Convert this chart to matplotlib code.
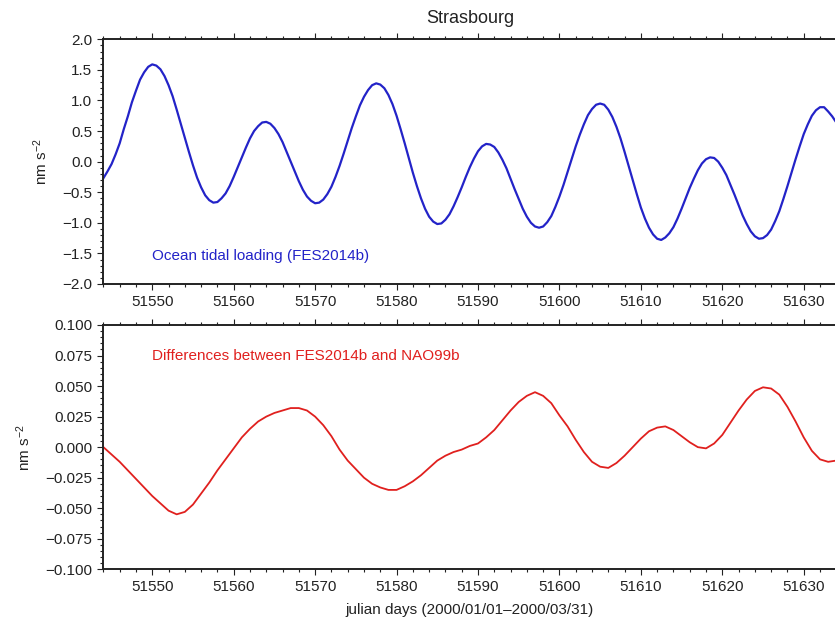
"""
Ocean tidal loading at Strasbourg (FES2014b) and the FES2014b - NAO99b
difference, Jan-Mar 2000, drawn in a GMT-like style.
"""
import matplotlib
matplotlib.use("Agg")
import matplotlib.pyplot as plt
from matplotlib.ticker import MultipleLocator, FuncFormatter

plt.rcParams["font.family"] = ["Liberation Sans", "DejaVu Sans"]
plt.rcParams["mathtext.default"] = "regular"
plt.rcParams["axes.unicode_minus"] = True

# --- data (MJD, nm s^-2) --------------------------------------------------
# FES2014b loading, every half day from 51544.0 to 51634.0
otl_fes = [
    -0.27, -0.16, -0.04, 0.12, 0.30, 0.53, 0.74, 0.97, 1.16, 1.34,
    1.46, 1.55, 1.59, 1.57, 1.51, 1.40, 1.25, 1.07, 0.85, 0.62,
    0.39, 0.16, -0.06, -0.26, -0.42, -0.55, -0.63, -0.67, -0.66, -0.60,
    -0.52, -0.40, -0.25, -0.09, 0.07, 0.23, 0.38, 0.50, 0.58, 0.64,
    0.65, 0.62, 0.55, 0.45, 0.32, 0.16, 0.00, -0.16, -0.32, -0.46,
    -0.57, -0.64, -0.68, -0.67, -0.62, -0.53, -0.41, -0.25, -0.07, 0.13,
    0.34, 0.55, 0.74, 0.92, 1.06, 1.17, 1.25, 1.28, 1.26, 1.20,
    1.09, 0.94, 0.75, 0.53, 0.30, 0.06, -0.18, -0.40, -0.60, -0.77,
    -0.90, -0.98, -1.02, -1.01, -0.95, -0.86, -0.73, -0.58, -0.42, -0.25,
    -0.09, 0.05, 0.17, 0.25, 0.29, 0.28, 0.24, 0.15, 0.03, -0.11,
    -0.28, -0.45, -0.61, -0.77, -0.90, -1.00, -1.06, -1.08, -1.06, -0.99,
    -0.89, -0.74, -0.57, -0.38, -0.17, 0.04, 0.25, 0.44, 0.61, 0.76,
    0.86, 0.93, 0.95, 0.93, 0.85, 0.73, 0.57, 0.38, 0.16, -0.07,
    -0.30, -0.53, -0.75, -0.93, -1.08, -1.19, -1.26, -1.28, -1.24, -1.17,
    -1.07, -0.93, -0.77, -0.60, -0.43, -0.28, -0.14, -0.03, 0.04, 0.07,
    0.06, 0.00, -0.10, -0.22, -0.38, -0.54, -0.71, -0.88, -1.02, -1.14,
    -1.22, -1.26, -1.25, -1.20, -1.11, -0.97, -0.81, -0.61, -0.40, -0.18,
    0.04, 0.25, 0.45, 0.61, 0.75, 0.84, 0.89, 0.89, 0.82, 0.74,
    0.64,
]
days_otl = [51544 + 0.5 * i for i in range(len(otl_fes))]

# FES2014b - NAO99b, daily from 51544 to 51634
diff_fes_nao = [
    0.000, -0.006, -0.012, -0.019, -0.026, -0.033, -0.040, -0.046, -0.052, -0.055,
    -0.053, -0.047, -0.038, -0.029, -0.019, -0.010, -0.001, 0.008, 0.015, 0.021,
    0.025, 0.028, 0.030, 0.032, 0.032, 0.030, 0.025, 0.018, 0.009, -0.002,
    -0.011, -0.018, -0.025, -0.030, -0.033, -0.035, -0.035, -0.032, -0.028, -0.023,
    -0.017, -0.011, -0.007, -0.004, -0.002, 0.001, 0.003, 0.008, 0.014, 0.022,
    0.030, 0.037, 0.042, 0.045, 0.042, 0.036, 0.026, 0.017, 0.006, -0.004,
    -0.012, -0.016, -0.017, -0.013, -0.007, 0.000, 0.007, 0.013, 0.016, 0.017,
    0.014, 0.009, 0.004, 0.000, -0.001, 0.003, 0.010, 0.020, 0.030, 0.039,
    0.046, 0.049, 0.048, 0.043, 0.033, 0.021, 0.008, -0.003, -0.010, -0.012,
    -0.011,
]
days_diff = list(range(51544, 51544 + len(diff_fes_nao)))

x_range = (51544, 51634)
top_ylim = (-2.0, 2.0)
bot_ylim = (-0.1, 0.1)

text_col = "#222222"
blue = "#2323c8"
red = "#e0201e"


def fmt(decimals):
    def _f(v, pos):
        s = f"{round(v, decimals) + 0.0:.{decimals}f}"
        return s.replace("-", "\u2212")
    return FuncFormatter(_f)


def style_axes(ax, ymajor, yminor, ydec):
    ax.set_xlim(*x_range)
    ax.xaxis.set_major_locator(MultipleLocator(10))
    ax.xaxis.set_minor_locator(MultipleLocator(2))
    ax.xaxis.set_major_formatter(FuncFormatter(lambda v, p: f"{int(round(v))}"))
    ax.yaxis.set_major_locator(MultipleLocator(ymajor))
    ax.yaxis.set_minor_locator(MultipleLocator(yminor))
    ax.yaxis.set_major_formatter(fmt(ydec))
    ax.tick_params(which="both", direction="out", top=True, right=True,
                   colors=text_col, labelcolor=text_col, width=0.8)
    ax.tick_params(which="major", length=4.5, pad=3.5, labelsize=11)
    ax.tick_params(which="minor", length=2.4)
    for sp in ax.spines.values():
        sp.set_linewidth(1.4)
        sp.set_color(text_col)
    ax.set_ylabel(r"nm s$^{-2}$", fontsize=11, color=text_col, labelpad=9)


fig = plt.figure(figsize=(8.35, 6.3), dpi=100)
left = 103.4 / 835
width = (836.3 - 103.4) / 835
ax1 = fig.add_axes([left, 1 - 284 / 630, width, (284 - 39.3) / 630])
ax2 = fig.add_axes([left, 1 - 569.3 / 630, width, (569.3 - 325) / 630])

# top: ocean tidal loading
ax1.plot(days_otl, otl_fes, color=blue, linewidth=1.6)
ax1.set_ylim(*top_ylim)
style_axes(ax1, 0.5, 0.1, 1)
ax1.text(51550, -1.55, "Ocean tidal loading (FES2014b)", color=blue,
         fontsize=11, ha="left", va="center")

# bottom: model differences
ax2.plot(days_diff, diff_fes_nao, color=red, linewidth=1.3)
ax2.set_ylim(*bot_ylim)
style_axes(ax2, 0.025, 0.005, 3)
ax2.text(51550, 0.075, "Differences between FES2014b and NAO99b", color=red,
         fontsize=11, ha="left", va="center")
ax2.set_xlabel("julian days (2000/01/01\u20132000/03/31)", fontsize=11,
               color=text_col, labelpad=6)

fig.text(left + width / 2, 1 - 23.3 / 630, "Strasbourg", fontsize=13,
         color=text_col, ha="center", va="baseline")

fig.savefig("out.png", dpi=100, facecolor="white")
plt.close(fig)
